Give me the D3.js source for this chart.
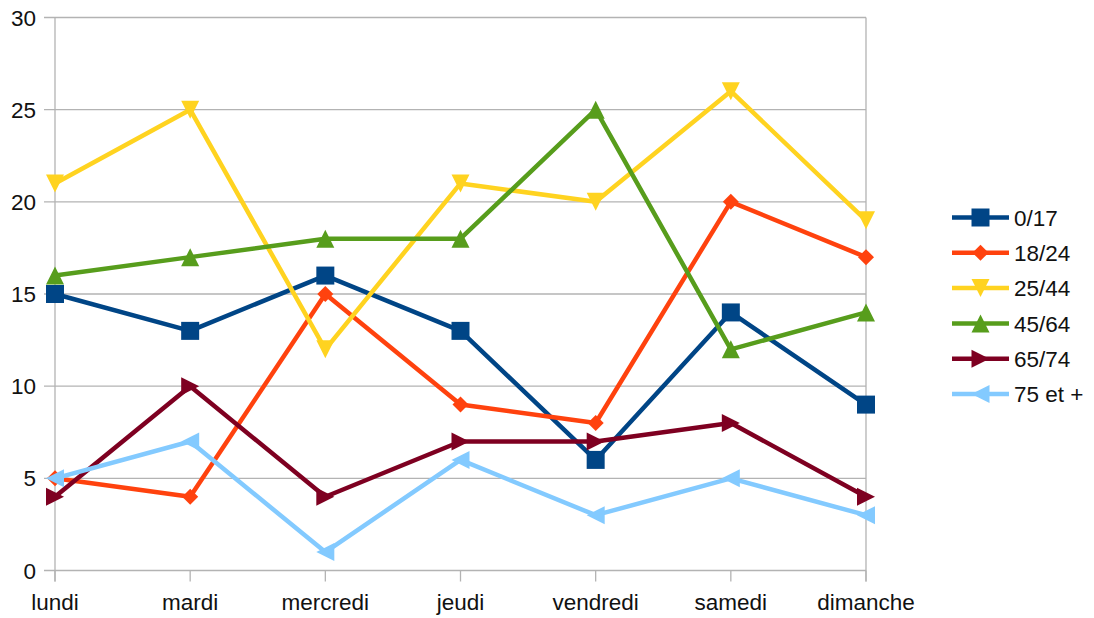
<!DOCTYPE html>
<html>
<head>
<meta charset="utf-8">
<script src="https://cdn.jsdelivr.net/npm/d3@7"></script>
<style>
  body { margin: 0; background: #fff; }
  text { font-family: "Liberation Sans", Arial, sans-serif; fill: #111; }
</style>
</head>
<body>
<div id="chart"></div>
<script>
var days = ["lundi", "mardi", "mercredi", "jeudi", "vendredi", "samedi", "dimanche"];
var seriesNames = ["0/17", "18/24", "25/44", "45/64", "65/74", "75 et +"];
var s0017 = [15, 13, 16, 13, 6, 14, 9];
var s1824 = [5, 4, 15, 9, 8, 20, 17];
var s2544 = [21, 25, 12, 21, 20, 26, 19];
var s4564 = [16, 17, 18, 18, 25, 12, 14];
var s6574 = [4, 10, 4, 7, 7, 8, 4];
var s75 = [5, 7, 1, 6, 3, 5, 3];
var yTicks = [0, 5, 10, 15, 20, 25, 30];

var colors = ["#004586", "#ff420e", "#ffd320", "#579d1c", "#7e0021", "#83caff"];
var shapes = ["square", "diamond", "down", "up", "right", "left"];
var allValues = [s0017, s1824, s2544, s4564, s6574, s75];

var series = seriesNames.map(function(n, i) {
    return { name: n, color: colors[i], shape: shapes[i], values: allValues[i] };
});

var width = 1094, height = 618;
var margin = { top: 17.5, left: 55, right: 228, bottom: 47.5 };

var svg = d3.select("#chart").append("svg")
    .attr("width", width)
    .attr("height", height);

var x = d3.scalePoint()
    .domain(days)
    .range([margin.left, width - margin.right]);

var y = d3.scaleLinear()
    .domain([0, 30])
    .range([height - margin.bottom, margin.top]);

var grid = "#b3b3b3";

// horizontal gridlines
svg.append("g")
    .selectAll("line")
    .data(yTicks)
    .enter().append("line")
    .attr("x1", margin.left - 11)
    .attr("x2", width - margin.right)
    .attr("y1", function(d) { return y(d); })
    .attr("y2", function(d) { return y(d); })
    .attr("stroke", grid)
    .attr("stroke-width", 1.3);

// left axis line + right border
svg.append("line")
    .attr("x1", margin.left).attr("x2", margin.left)
    .attr("y1", y(30)).attr("y2", y(0) + 11)
    .attr("stroke", grid).attr("stroke-width", 1.3);
svg.append("line")
    .attr("x1", width - margin.right).attr("x2", width - margin.right)
    .attr("y1", y(30)).attr("y2", y(0) + 11)
    .attr("stroke", grid).attr("stroke-width", 1.3);

// bottom ticks
svg.append("g")
    .selectAll("line")
    .data(days)
    .enter().append("line")
    .attr("x1", function(d) { return x(d); })
    .attr("x2", function(d) { return x(d); })
    .attr("y1", y(0))
    .attr("y2", y(0) + 11)
    .attr("stroke", grid)
    .attr("stroke-width", 1.3);

// y labels
svg.append("g")
    .selectAll("text")
    .data(yTicks)
    .enter().append("text")
    .attr("x", 36)
    .attr("y", function(d) { return y(d); })
    .attr("dy", "0.36em")
    .attr("text-anchor", "end")
    .style("font-size", "22.5px")
    .text(function(d) { return d; });

// x labels
svg.append("g")
    .selectAll("text")
    .data(days)
    .enter().append("text")
    .attr("x", function(d) { return x(d); })
    .attr("y", 610)
    .attr("text-anchor", "middle")
    .style("font-size", "22.5px")
    .text(function(d) { return d; });

function markerPath(shape, s) {
    var h = s / 2;
    if (shape == "square") return "M" + -h + "," + -h + "h" + s + "v" + s + "h" + -s + "Z";
    if (shape == "diamond") return "M0," + -h + "L" + h + ",0L0," + h + "L" + -h + ",0Z";
    if (shape == "down") return "M" + -h + "," + -h + "L" + h + "," + -h + "L0," + h + "Z";
    if (shape == "up") return "M" + -h + "," + h + "L" + h + "," + h + "L0," + -h + "Z";
    if (shape == "right") return "M" + -h + "," + -h + "L" + h + ",0L" + -h + "," + h + "Z";
    if (shape == "left") return "M" + h + "," + -h + "L" + -h + ",0L" + h + "," + h + "Z";
}

var line = d3.line()
    .x(function(d, i) { return x(days[i]); })
    .y(function(d) { return y(d); });

series.forEach(function(s) {
    var g = svg.append("g");
    g.append("path")
        .attr("d", line(s.values))
        .attr("fill", "none")
        .attr("stroke", s.color)
        .attr("stroke-width", 4.5)
        .attr("stroke-linejoin", "round");
    g.selectAll("path.mk")
        .data(s.values)
        .enter().append("path")
        .attr("class", "mk")
        .attr("transform", function(d, i) { return "translate(" + x(days[i]) + "," + y(d) + ")"; })
        .attr("d", markerPath(s.shape, s.shape == "diamond" ? 16 : 18))
        .attr("fill", s.color);
});

// legend
var legend = svg.append("g")
    .selectAll("g")
    .data(series)
    .enter().append("g")
    .attr("transform", function(d, i) { return "translate(952," + (217.5 + i * 35.3) + ")"; });

legend.append("line")
    .attr("x1", 0).attr("x2", 57)
    .attr("stroke", function(d) { return d.color; })
    .attr("stroke-width", 4.5);
legend.append("path")
    .attr("transform", "translate(28.5,0)")
    .attr("d", function(d) { return markerPath(d.shape, d.shape == "diamond" ? 16 : 18); })
    .attr("fill", function(d) { return d.color; });
legend.append("text")
    .attr("x", 62)
    .attr("dy", "0.36em")
    .style("font-size", "22.5px")
    .text(function(d) { return d.name; });
</script>
</body>
</html>
